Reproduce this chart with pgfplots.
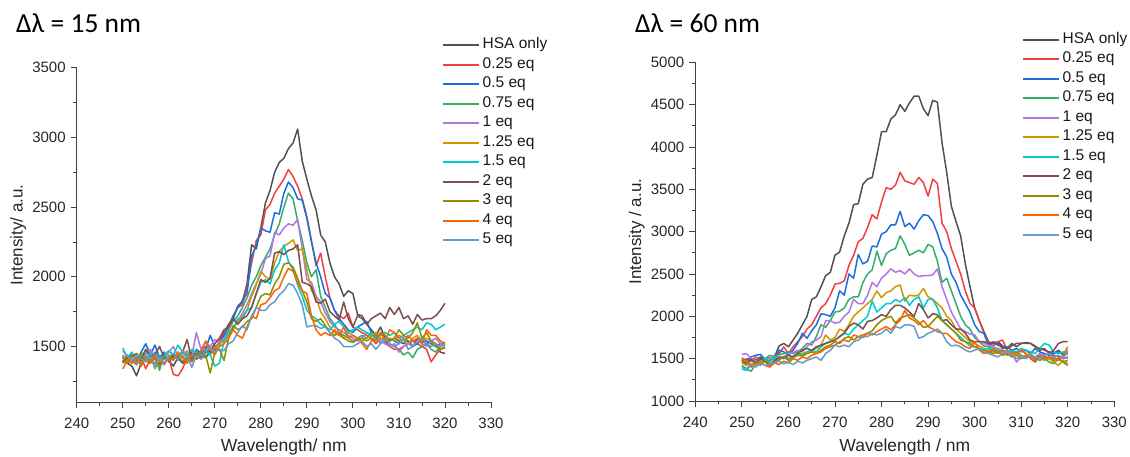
\documentclass[border=0pt]{standalone}
\usepackage{fontspec}
\setmainfont{Liberation Sans}
\newfontfamily\calibri{Carlito}
\usepackage{pgfplots}
\pgfplotsset{compat=1.18}
\usepackage{pgfplotstable}

\definecolor{c1}{HTML}{515151}
\definecolor{c2}{HTML}{F14040}
\definecolor{c3}{HTML}{1A6FDF}
\definecolor{c4}{HTML}{37AD6B}
\definecolor{c5}{HTML}{B177DE}
\definecolor{c6}{HTML}{CC9900}
\definecolor{c7}{HTML}{00CBCC}
\definecolor{c8}{HTML}{7D4E4E}
\definecolor{c9}{HTML}{8E8E00}
\definecolor{c10}{HTML}{FB6501}
\definecolor{c11}{HTML}{6699CC}

\pgfplotstableread{
x A B C D E F G H I J K
250 1400 1380 1430 1420 1410 1440 1490 1390 1420 1340 1470
251 1380 1420 1390 1380 1440 1400 1420 1420 1380 1400 1430
252 1360 1400 1450 1430 1380 1420 1460 1430 1440 1380 1400
253 1290 1370 1400 1410 1430 1440 1380 1450 1410 1420 1440
254 1380 1430 1460 1380 1400 1390 1440 1400 1450 1360 1410
255 1420 1340 1520 1440 1450 1410 1470 1480 1400 1420 1390
256 1390 1410 1440 1400 1480 1430 1420 1430 1380 1390 1460
257 1410 1380 1510 1420 1420 1340 1460 1440 1420 1440 1350
258 1380 1400 1420 1330 1390 1410 1410 1500 1360 1400 1420
259 1440 1370 1460 1450 1410 1380 1440 1420 1430 1380 1380
260 1400 1420 1390 1400 1460 1440 1470 1400 1400 1420 1430
261 1360 1300 1430 1420 1500 1400 1440 1440 1420 1400 1450
262 1420 1290 1410 1460 1430 1460 1510 1410 1440 1450 1400
263 1380 1340 1460 1430 1470 1420 1460 1460 1390 1420 1470
264 1400 1420 1440 1400 1450 1470 1420 1550 1420 1380 1430
265 1460 1390 1420 1440 1430 1410 1480 1400 1400 1440 1350
266 1410 1440 1480 1470 1600 1420 1450 1450 1430 1420 1440
267 1440 1470 1450 1420 1480 1440 1430 1420 1410 1460 1410
268 1420 1500 1480 1480 1530 1450 1470 1460 1440 1540 1460
269 1460 1480 1580 1440 1500 1470 1440 1470 1310 1480 1490
270 1480 1460 1500 1500 1550 1490 1360 1520 1460 1440 1460
271 1530 1540 1520 1510 1530 1520 1380 1560 1480 1500 1480
272 1600 1600 1580 1560 1560 1540 1540 1620 1400 1520 1470
273 1660 1650 1640 1620 1600 1580 1600 1640 1560 1560 1520
274 1700 1720 1720 1680 1640 1640 1620 1700 1650 1620 1540
275 1790 1780 1780 1720 1680 1680 1700 1660 1620 1580 1600
276 1820 1800 1830 1780 1740 1720 1700 1700 1640 1560 1650
277 1950 1920 1880 1850 1800 1760 1760 1720 1680 1640 1620
278 2230 2100 2150 1940 1880 1860 1780 1780 1700 1720 1720
279 2200 2260 2220 2000 1950 1940 1880 1880 1780 1700 1780
280 2350 2300 2350 2080 2020 2040 1960 1980 1860 1800 1760
281 2530 2480 2330 2140 2130 2000 1980 1960 1880 1810 1760
282 2620 2520 2320 2200 2150 1980 1950 1990 1870 1850 1800
283 2750 2600 2460 2300 2320 2100 2050 2170 1950 1900 1820
284 2820 2650 2450 2380 2300 2180 2100 2180 2000 1920 1870
285 2850 2700 2600 2500 2350 2220 2230 2160 2090 2000 1900
286 2920 2770 2680 2600 2380 2240 2110 2190 2100 2060 1950
287 2960 2720 2640 2560 2370 2265 2050 2200 2070 2040 1940
288 3060 2650 2560 2400 2410 2190 1940 2230 1990 1960 1880
289 2830 2560 2550 2260 2200 2200 1860 1960 1900 1900 1800
290 2700 2430 2420 2100 1980 2050 1760 1950 1820 1880 1640
291 2580 2260 2250 2000 1960 1900 1720 1930 1700 1720 1650
292 2480 2080 2100 2050 1860 1850 1700 1820 1680 1620 1650
293 2300 2170 2000 1860 1820 1750 1660 1810 1700 1580 1630
294 2250 2000 1880 1780 1740 1700 1640 1840 1650 1600 1640
295 2100 1850 1850 1700 1680 1640 1620 1750 1600 1580 1600
296 2000 1760 1760 1660 1640 1600 1660 1720 1580 1620 1560
297 1950 1720 1700 1600 1620 1580 1680 1690 1600 1580 1540
298 1860 1700 1660 1580 1600 1560 1640 1820 1560 1640 1500
299 1900 1740 1620 1560 1580 1600 1600 1700 1540 1560 1500
300 1880 1640 1600 1540 1560 1580 1620 1640 1530 1580 1500
301 1730 1620 1640 1560 1540 1560 1640 1720 1550 1560 1520
302 1720 1600 1660 1580 1560 1540 1620 1700 1560 1520 1540
303 1660 1580 1680 1560 1600 1560 1600 1660 1540 1480 1500
304 1620 1560 1600 1600 1580 1580 1580 1700 1560 1540 1520
305 1580 1520 1560 1580 1560 1600 1560 1720 1540 1560 1480
306 1640 1560 1540 1520 1540 1560 1580 1740 1600 1600 1520
307 1560 1540 1520 1560 1520 1540 1600 1700 1580 1540 1560
308 1540 1500 1560 1520 1500 1560 1580 1780 1540 1620 1520
309 1560 1480 1540 1500 1520 1540 1600 1730 1560 1600 1500
310 1540 1480 1520 1480 1460 1580 1560 1780 1620 1560 1520
311 1520 1500 1560 1440 1500 1560 1580 1700 1580 1540 1560
312 1540 1520 1540 1460 1520 1520 1600 1720 1560 1580 1480
313 1500 1540 1500 1420 1500 1560 1620 1660 1600 1540 1500
314 1560 1520 1520 1480 1540 1580 1640 1730 1670 1560 1540
315 1540 1500 1560 1500 1520 1540 1620 1690 1560 1520 1560
316 1520 1480 1540 1520 1500 1560 1670 1700 1600 1620 1520
317 1540 1390 1520 1480 1540 1540 1660 1700 1540 1580 1500
318 1520 1440 1500 1460 1560 1520 1620 1720 1500 1580 1520
319 1460 1480 1520 1500 1520 1500 1640 1760 1480 1540 1500
320 1450 1490 1530 1520 1510 1520 1660 1810 1500 1520 1520
}\leftdata

\pgfplotstableread{
x A B C D E F G H I J K
250 1480 1460 1500 1420 1550 1450 1380 1470 1510 1460 1400
251 1460 1500 1480 1380 1560 1420 1360 1440 1450 1480 1380
252 1500 1470 1520 1350 1500 1480 1430 1490 1420 1400 1440
253 1480 1520 1540 1440 1470 1440 1460 1450 1470 1430 1400
254 1520 1480 1550 1470 1500 1490 1420 1500 1430 1460 1450
255 1460 1500 1490 1500 1470 1460 1500 1470 1480 1420 1420
256 1480 1470 1510 1540 1510 1430 1460 1420 1440 1400 1430
257 1520 1540 1480 1520 1490 1480 1530 1480 1460 1450 1450
258 1650 1560 1600 1550 1530 1500 1480 1510 1490 1430 1470
259 1680 1640 1580 1560 1520 1520 1530 1500 1520 1470 1440
260 1640 1560 1540 1580 1560 1490 1500 1540 1480 1450 1460
261 1720 1640 1600 1560 1570 1520 1530 1520 1510 1500 1430
262 1800 1700 1680 1580 1600 1550 1560 1560 1540 1480 1470
263 1900 1760 1800 1620 1580 1560 1540 1600 1530 1520 1450
264 2000 1850 1740 1680 1640 1580 1580 1620 1560 1500 1480
265 2200 1900 1830 1660 1700 1600 1600 1600 1580 1540 1500
266 2230 2000 1900 1760 1720 1620 1580 1640 1560 1560 1520
267 2350 2100 2030 1900 1760 1660 1640 1660 1600 1580 1480
268 2480 2150 2020 1870 1950 1780 1680 1680 1640 1620 1560
269 2520 2250 2000 1950 1950 1720 1700 1700 1660 1640 1600
270 2720 2380 2100 2050 1920 1750 1720 1720 1700 1660 1660
271 2760 2390 2300 2060 1930 1850 1760 1760 1680 1700 1640
272 2950 2420 2250 2100 2000 1820 1800 1800 1740 1720 1660
273 3100 2600 2500 2200 2050 1900 1780 1880 1760 1700 1640
274 3320 2720 2450 2230 2200 2000 1850 1920 1720 1780 1700
275 3330 2880 2730 2230 2150 2050 1900 1900 1760 1760 1720
276 3560 2920 2620 2400 2150 2100 1950 1850 1750 1780 1760
277 3620 3050 2650 2500 2250 2150 2000 1940 1800 1800 1760
278 3640 3200 2830 2550 2400 2200 2180 1950 1830 1780 1800
279 3900 3150 2820 2770 2350 2300 2050 1980 1900 1820 1780
280 4180 3350 2970 2600 2450 2220 2100 2020 1950 1850 1800
281 4180 3520 3000 2740 2500 2280 2150 2000 1980 1880 1850
282 4330 3500 3080 2780 2560 2300 2150 2080 2000 1840 1800
283 4380 3550 3080 2800 2520 2350 2200 2130 1920 1900 1880
284 4500 3700 3240 2950 2540 2370 2170 2130 1980 1950 1860
285 4420 3600 3060 2850 2500 2180 2220 2100 2000 2070 1900
286 4520 3580 3100 2720 2560 2250 2130 2050 2020 1980 1900
287 4600 3560 3030 2750 2500 2240 2200 2000 1980 1950 1880
288 4600 3640 3130 2780 2470 2250 2230 2150 1930 1900 1740
289 4450 3580 3200 2750 2480 2330 2100 2080 1870 1950 1760
290 4370 3420 3190 2850 2480 2230 2200 1980 1880 1880 1800
291 4550 3620 3120 2820 2490 2200 2200 2030 1940 1850 1820
292 4530 3570 2980 2650 2560 2150 2100 2020 2000 1820 1850
293 4050 3100 2800 2400 2350 2100 1950 1950 1950 1800 1800
294 3700 3000 2700 2450 2200 2000 1900 1960 1900 1800 1700
295 3300 2800 2500 2300 2050 1950 1850 1900 1850 1750 1650
296 3120 2650 2400 2150 1950 1850 1800 1850 1800 1700 1660
297 2950 2500 2250 2000 1850 1800 1750 1850 1720 1680 1640
298 2620 2300 2150 1900 1820 1750 1700 1800 1700 1640 1600
299 2350 2150 2050 1850 1790 1700 1650 1720 1680 1620 1580
300 2100 2100 1900 1750 1780 1680 1640 1700 1640 1700 1600
301 1950 1950 1820 1700 1700 1650 1620 1700 1620 1600 1620
302 1820 1800 1800 1650 1680 1620 1600 1700 1600 1560 1580
303 1700 1700 1650 1640 1660 1600 1620 1680 1580 1580 1560
304 1680 1650 1700 1620 1640 1580 1600 1690 1560 1600 1540
305 1700 1700 1680 1600 1620 1600 1580 1660 1580 1560 1520
306 1650 1720 1620 1580 1600 1560 1600 1640 1540 1600 1560
307 1620 1600 1640 1600 1580 1580 1560 1620 1560 1540 1580
308 1680 1580 1600 1560 1560 1540 1600 1650 1520 1580 1540
309 1640 1560 1620 1580 1460 1560 1580 1680 1540 1560 1500
310 1680 1600 1580 1540 1520 1520 1620 1680 1500 1600 1520
311 1680 1560 1600 1520 1540 1540 1600 1690 1520 1560 1500
312 1680 1500 1560 1560 1500 1560 1580 1680 1540 1520 1540
313 1640 1460 1620 1500 1520 1500 1560 1650 1480 1500 1520
314 1620 1540 1580 1480 1560 1520 1620 1600 1520 1540 1500
315 1600 1520 1560 1500 1540 1480 1680 1620 1500 1500 1540
316 1580 1500 1540 1460 1500 1500 1660 1560 1520 1520 1560
317 1560 1540 1560 1440 1520 1460 1580 1600 1480 1500 1520
318 1600 1520 1580 1500 1480 1420 1560 1680 1500 1480 1540
319 1540 1500 1560 1460 1520 1480 1580 1700 1460 1540 1500
320 1560 1520 1580 1480 1500 1440 1560 1700 1420 1640 1600
}\rightdata

\pgfplotsset{
  legend image code/.code={\draw[#1, line width=1.7pt] (0pt,0pt) -- (36pt,0pt);},
  myax/.style={
    scale only axis, anchor=south west,
    xmin=240, xmax=330, xtick={240,250,...,330}, minor x tick num=1,
    minor y tick num=1,
    axis x line*=bottom, axis y line*=left,
    axis line style={-, line width=0.9pt, color=black!75},
    tick align=outside, major tick length=6pt, minor tick length=3.5pt,
    every tick/.style={black!75, line width=0.8pt},
    tick label style={font=\fontsize{15}{17}\selectfont, text=black!85},
    xticklabel style={yshift=-6pt},
    yticklabel style={xshift=-1.5pt},
    /pgf/number format/assume math mode=true,
    /pgf/number format/1000 sep={},
    scaled ticks=false,
    every axis y label/.style={at={(axis description cs:-0.141,0.5)}, rotate=90, anchor=center,
      font=\fontsize{17}{19}\selectfont, text=black!85},
    every axis x label/.style={at={(axis description cs:0.5,-0.135)}, anchor=center,
      font=\fontsize{17.5}{19}\selectfont, text=black!85},
    legend cell align=left,
    legend style={draw=none, fill=none, inner sep=0pt, row sep=3.5pt, column sep=2pt,
      font=\fontsize{15.5}{17}\selectfont,
      nodes={inner sep=0.5pt, text height=11pt, text depth=4pt, text=black!90},
      anchor=north west},
    every axis plot/.append style={line width=1.5pt, no markers, line join=round},
  }
}

\begin{document}
\begin{tikzpicture}
\useasboundingbox (0,0) rectangle (1130pt,457pt);
\node[anchor=base west, font=\calibri\fontsize{27.5}{30}\selectfont, inner sep=0pt] at (16pt,424pt) {Δλ = 15 nm};
\node[anchor=base west, font=\calibri\fontsize{27.5}{30}\selectfont, inner sep=0pt] at (635pt,424pt) {Δλ = 60 nm};

\begin{axis}[myax, at={(76.7pt,54.7pt)}, width=414.3pt, height=334.6pt,
  ymin=1100, ymax=3500, ytick={1500,2000,...,3500}, minor ytick={1250,1750,...,3250},
  minor y tick num=0,
  xlabel={Wavelength/ nm}, ylabel={Intensity/ a.u.},
  legend style={at={(axis description cs:0.8824,1.0915)}}]
\addplot[c1] table[x=x,y=A]{\leftdata};
\addplot[c2] table[x=x,y=B]{\leftdata};
\addplot[c3] table[x=x,y=C]{\leftdata};
\addplot[c4] table[x=x,y=D]{\leftdata};
\addplot[c5] table[x=x,y=E]{\leftdata};
\addplot[c6] table[x=x,y=F]{\leftdata};
\addplot[c7] table[x=x,y=G]{\leftdata};
\addplot[c8] table[x=x,y=H]{\leftdata};
\addplot[c9] table[x=x,y=I]{\leftdata};
\addplot[c10] table[x=x,y=J]{\leftdata};
\addplot[c11] table[x=x,y=K]{\leftdata};
\legend{HSA only,0.25 eq,0.5 eq,0.75 eq,1 eq,1.25 eq,1.5 eq,2 eq,3 eq,4 eq,5 eq}
\end{axis}

\begin{axis}[myax, at={(695.3pt,56pt)}, width=419pt, height=338.7pt,
  ymin=1000, ymax=5000, ytick={1000,1500,...,5000},
  xlabel={Wavelength / nm}, ylabel={Intensity / a.u.},
  every axis y label/.append style={at={(axis description cs:-0.14,0.5)}},
  legend style={at={(axis description cs:0.7804,1.0905)}}]
\addplot[c1] table[x=x,y=A]{\rightdata};
\addplot[c2] table[x=x,y=B]{\rightdata};
\addplot[c3] table[x=x,y=C]{\rightdata};
\addplot[c4] table[x=x,y=D]{\rightdata};
\addplot[c5] table[x=x,y=E]{\rightdata};
\addplot[c6] table[x=x,y=F]{\rightdata};
\addplot[c7] table[x=x,y=G]{\rightdata};
\addplot[c8] table[x=x,y=H]{\rightdata};
\addplot[c9] table[x=x,y=I]{\rightdata};
\addplot[c10] table[x=x,y=J]{\rightdata};
\addplot[c11] table[x=x,y=K]{\rightdata};
\legend{HSA only,0.25 eq,0.5 eq,0.75 eq,1 eq,1.25 eq,1.5 eq,2 eq,3 eq,4 eq,5 eq}
\end{axis}
\end{tikzpicture}
\end{document}
